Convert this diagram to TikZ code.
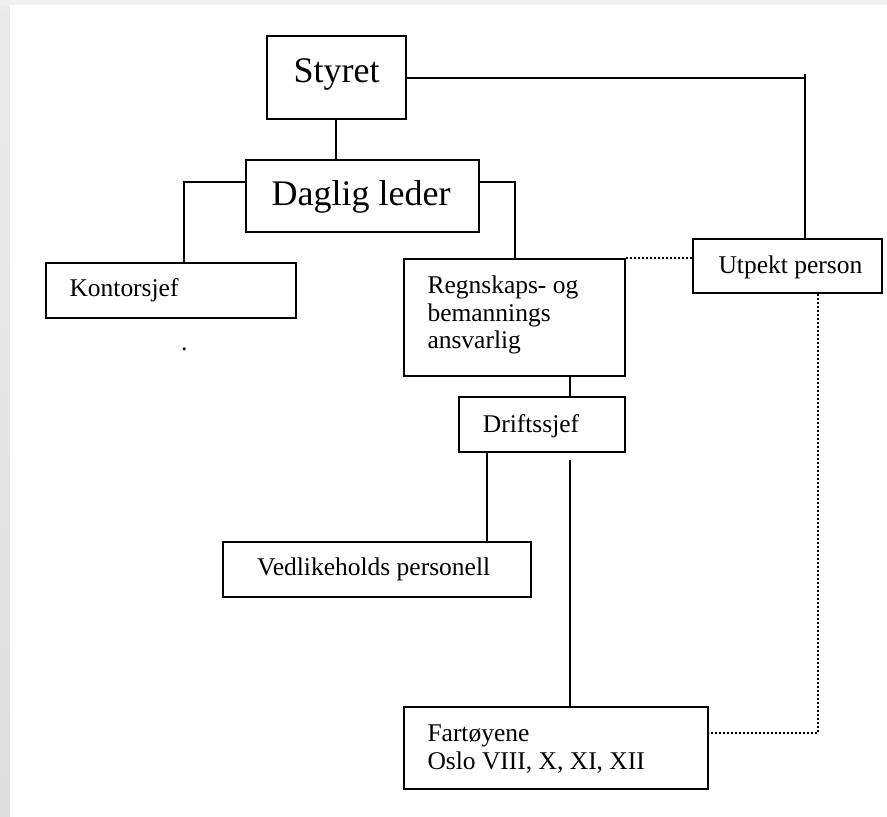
\documentclass[tikz,border=0pt]{standalone}
\usepackage{fontspec}
\setmainfont{Liberation Serif}
\begin{document}
\begin{tikzpicture}[x=1pt,y=-1pt,
  box/.style={draw=black, line width=2pt, inner sep=0pt},
  conn/.style={draw=black, line width=2pt},
  dots/.style={draw=black, line width=2pt, dash pattern=on 2pt off 2pt},
  big/.style={inner sep=0pt, anchor=base, font=\fontsize{36}{40}\selectfont},
  small/.style={inner sep=0pt, anchor=base west, font=\fontsize{25.5}{27.5}\selectfont}]
\useasboundingbox (0,0) rectangle (887,817);
% page background
\fill[black!6] (0,0) rectangle (887,817);
\shade[top color=black!8, middle color=black!3, bottom color=black!13] (0,5) rectangle (10,817);
\fill[white] (10,5) rectangle (887,817);
% boxes
\node[box, minimum width=139pt, minimum height=83pt] (styret) at (336.5,77.5) {};
\node[box, minimum width=233pt, minimum height=72pt] (daglig) at (362.5,196) {};
\node[box, minimum width=250pt, minimum height=55pt] (kontor) at (171,290.5) {};
\node[box, minimum width=221pt, minimum height=117pt] (regn) at (514.5,317.5) {};
\node[box, minimum width=189pt, minimum height=54pt] (utpekt) at (787.5,266) {};
\node[box, minimum width=166pt, minimum height=55pt] (drifts) at (542,424.5) {};
\node[box, minimum width=308pt, minimum height=55pt] (vedl) at (377,569.5) {};
\node[box, minimum width=304pt, minimum height=82pt] (fart) at (556,748) {};
% texts
\node[big] (tstyret) at (336.5,82) {Styret};
\node[big] (tdaglig) at (361,205) {Daglig leder};
\node[small] (tkontor) at (69.3,296) {Kontorsjef};
\node[small] (tregn1) at (427.3,293.3) {Regnskaps- og};
\node[small] (tregn2) at (427.3,321) {bemannings};
\node[small] (tregn3) at (427.3,348.3) {ansvarlig};
\node[small] (tutpekt) at (718.3,273.3) {Utpekt person};
\node[small] (tdrifts) at (482.7,432) {Driftssjef};
\node[small] (tvedl) at (257,575) {Vedlikeholds personell};
\node[small] (tfart1) at (427.3,741.7) {Fartøyene};
\node[small] (tfart2) at (427.3,769.3) {Oslo VIII, X, XI, XII};
\node[small, anchor=base] (dot) at (184.3,350) {.};
% connectors
\coordinate (sd) at ([xshift=-0.5pt]styret.south);
\coordinate (sv) at ([xshift=17.5pt]utpekt.north);
\coordinate (kd) at ([xshift=13pt]kontor.north);
\coordinate (dl) at ([yshift=-23pt]daglig.north west);
\coordinate (dr) at ([yshift=-23pt]daglig.north east);
\coordinate (rt) at ([xshift=0.5pt]regn.north);
\coordinate (ud) at ([xshift=30.5pt]utpekt.south);
\coordinate (fe) at ([yshift=15pt]fart.east);
\coordinate (rd) at ([xshift=55.5pt]regn.south);
\coordinate (dv) at ([xshift=-55pt]drifts.south);
\coordinate (df) at ([xshift=28pt,yshift=-7pt]drifts.south);
\draw[conn] (sd) -- (sd |- daglig.north);
\draw[conn] (dl) -| (kd);
\draw[conn] (dr) -| (rt);
\draw[conn] (styret.east) -| (sv);
\draw[conn] (sv |- styret.east) -- ++(0,-4);
\draw[conn] (rd) -- (rd |- drifts.north);
\draw[conn] (dv) -- (dv |- vedl.north);
\draw[conn] (df) -- (df |- fart.north);
\draw[dots] (regn.north east) -- (regn.north east -| utpekt.west);
\draw[dots] (ud) |- (fe);
\end{tikzpicture}
\end{document}
